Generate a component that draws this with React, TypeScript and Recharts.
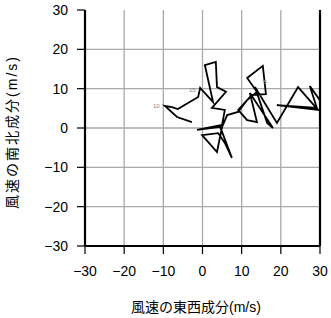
import React from 'react';
import { ComposedChart, Line, Scatter, XAxis, YAxis, ReferenceLine } from 'recharts';

// wind components (m/s): u = east-west, v = north-south, in path order
const uWind = [-2.7, -6.5, -9.6, -7.8, -6.3, -1.1, -0.6, 2.7, 0.6, 3.4, 3.7, 6.0, 2.4, 5.7, 5.0, -1.4, 4.5, 7.5, 5.7, 4.0, -0.1, 3.7, 5.0, 6.3, 9.1, 11.4, 13.9, 11.4, 15.4, 16.2, 12.6, 9.1, 11.4, 13.9, 12.1, 18.0, 16.5, 13.4, 19.0, 24.4, 29.5, 19.0, 29.2, 27.4, 30.3];
const vWind = [1.5, 2.8, 5.6, 5.3, 4.8, 7.9, 10.2, 6.6, 16.0, 16.8, 10.4, 9.2, 5.1, 4.6, 0.8, -0.5, 0.3, -7.6, -3.8, -1.3, -1.8, -6.1, 0.3, 3.3, 4.1, 7.1, 9.2, 12.7, 15.8, 8.6, 8.4, 4.6, 2.0, 1.5, 8.9, 0.0, 1.3, 10.4, 1.3, 10.4, 4.6, 5.8, 5.1, 10.7, 6.6];

// height markers
const markerText = ['10', '15', '5'];
const markerU = [-11.8, -2.6, 16.0];
const markerV = [5.5, 9.6, 11.7];

const axisTicks = [-30, -20, -10, 0, 10, 20, 30];
const gridValues = [-20, -10, 0, 10, 20];
const xTitle = '風速の東西成分(m/s)';
const yTitle = '風速の南北成分(m/s)';

const pathData = uWind.map((u, i) => ({ x: u, y: vWind[i] }));
const markerData = markerText.map((t, i) => ({ x: markerU[i], y: markerV[i], t }));

const FONT = "'Liberation Sans', Arial, 'Noto Sans CJK JP', sans-serif";
const fmt = (v: number) => (v < 0 ? '\u2212' + Math.abs(v) : String(v));
const GRID = '#a9a9a9';

export default function App() {
  return (
    <div style={{ position: 'absolute', left: 0, top: 0, width: 331, height: 318, background: '#fff' }}>
      <ComposedChart width={331} height={318} margin={{ top: 10, right: 0, bottom: 0, left: 0 }}>
        {gridValues.map((v) => (
          <ReferenceLine key={'gx' + v} x={v} stroke={GRID} strokeWidth={1.3} ifOverflow="hidden" />
        ))}
        {gridValues.map((v) => (
          <ReferenceLine key={'gy' + v} y={v} stroke={GRID} strokeWidth={1.3} ifOverflow="hidden" />
        ))}
        <XAxis
          type="number"
          dataKey="x"
          domain={[-30, 30]}
          ticks={axisTicks}
          allowDataOverflow
          height={72}
          tickSize={8}
          tickMargin={12}
          tickFormatter={fmt}
          tick={{ fill: '#000', fontSize: 14, fontFamily: FONT }}
          axisLine={{ stroke: '#000', strokeWidth: 2.2 }}
          tickLine={{ stroke: '#000', strokeWidth: 1.2 }}
          label={{
            content: () => (
              <text x={196} y={307} textAnchor="middle" dominantBaseline="central" fontSize={14} fontFamily={FONT} fill="#000">
                {xTitle}
              </text>
            ),
          }}
        />
        <XAxis
          xAxisId="t"
          orientation="top"
          type="number"
          domain={[-30, 30]}
          ticks={axisTicks}
          height={0}
          tick={false}
          tickLine={false}
          axisLine={{ stroke: '#000', strokeWidth: 2.2 }}
        />
        <YAxis
          type="number"
          dataKey="y"
          domain={[-30, 30]}
          ticks={axisTicks}
          allowDataOverflow
          width={85}
          tickSize={8}
          tickMargin={9}
          tickFormatter={fmt}
          tick={{ fill: '#000', fontSize: 14, fontFamily: FONT }}
          axisLine={{ stroke: '#000', strokeWidth: 2.2 }}
          tickLine={{ stroke: '#000', strokeWidth: 1.2 }}
          label={{
            content: () => (
              <text
                x={12}
                y={132}
                transform="rotate(-90 12 132)"
                textAnchor="middle"
                dominantBaseline="central"
                fontSize={14}
                letterSpacing={2}
                fontFamily={FONT}
                fill="#000"
              >
                {yTitle}
              </text>
            ),
          }}
        />
        <YAxis
          yAxisId="r"
          orientation="right"
          type="number"
          domain={[-30, 30]}
          ticks={axisTicks}
          width={11}
          tickSize={9}
          tick={false}
          axisLine={{ stroke: '#000', strokeWidth: 2.2 }}
          tickLine={{ stroke: '#999', strokeWidth: 1.2 }}
        />
        <Line
          data={pathData}
          dataKey="y"
          type="linear"
          stroke="#000"
          strokeWidth={1.8}
          dot={false}
          activeDot={false}
          isAnimationActive={false}
          strokeLinejoin="miter"
        />
        <Scatter
          data={markerData}
          dataKey="y"
          isAnimationActive={false}
          shape={(p: any) => (
            <text x={p.cx} y={p.cy} textAnchor="middle" dominantBaseline="central" fontSize={6} fontFamily={FONT} fill="#888">
              {p.payload.t}
            </text>
          )}
        />
      </ComposedChart>
    </div>
  );
}
